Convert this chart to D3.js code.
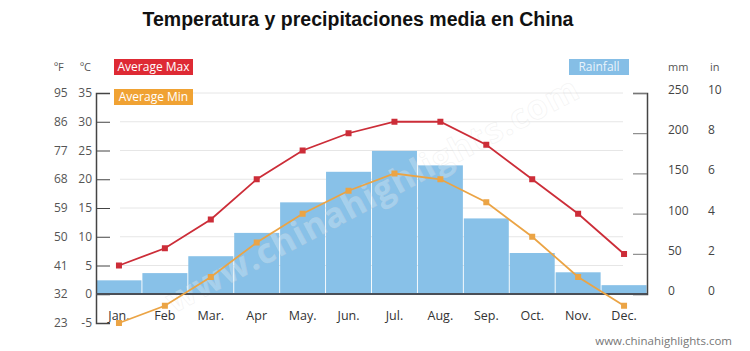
<!doctype html>
<html lang="es">

<head>
    <meta charset="utf-8">
    <title>Temperatura y precipitaciones media en China</title>
    <script src="https://cdn.jsdelivr.net/npm/d3@7"></script>
    <style>
        body {
            margin: 0;
            background: #fff;
        }

        svg {
            display: block;
            font-family: "Open Sans", sans-serif;
        }
    </style>
</head>

<body>
    <svg></svg>
    <script>
        var width = 750;
        var height = 351;

        // datos
        var months = ["Jan.", "Feb", "Mar.", "Apr", "May.", "Jun.", "Jul.", "Aug.", "Sep.", "Oct.", "Nov.", "Dec."];
        var maxTemp = [5, 8, 13, 20, 25, 28, 30, 30, 26, 20, 14, 7];
        var minTemp = [-5, -2, 3, 9, 14, 18, 21, 20, 16, 10, 3, -2];
        var rainfall = [17, 26, 47, 76, 114, 152, 178, 160, 94, 51, 27, 11];
        var tempTicks = [-5, 0, 5, 10, 15, 20, 25, 30, 35];
        var rainTicks = [0, 50, 100, 150, 200, 250];

        var plotLeft = 96, plotRight = 647, plotTop = 93, zeroY = 294, plotBottom = 323;

        var svg = d3.select('svg').attr('width', width).attr('height', height);

        var x = d3.scaleBand().domain(months).range([plotLeft, plotRight]).paddingInner(0.02).paddingOuter(0.01);
        var yT = d3.scaleLinear().domain([-5, 35]).range([plotBottom, plotTop]);
        var yR = d3.scaleLinear().domain([0, 250]).range([zeroY, plotTop]);

        // title
        svg.append("text")
            .attr("x", 358).attr("y", 26)
            .attr("text-anchor", "middle")
            .attr("font-family", "Liberation Sans, Arial, sans-serif")
            .attr("font-weight", "bold")
            .attr("font-size", "19.5px")
            .attr("fill", "#111")
            .text("Temperatura y precipitaciones media en China");

        // gridlines
        svg.append("g").selectAll("line")
            .data(tempTicks.filter(function (d) { return d > 0; }))
            .enter().append("line")
            .attr("x1", 120).attr("x2", 623)
            .attr("y1", function (d) { return yT(d); })
            .attr("y2", function (d) { return yT(d); })
            .attr("stroke", "#e6e6e6").attr("stroke-width", 1);

        // bars
        svg.append("g").selectAll("rect")
            .data(rainfall)
            .enter().append("rect")
            .attr("x", function (d, i) { return x(months[i]); })
            .attr("width", x.bandwidth())
            .attr("y", function (d) { return yR(d); })
            .attr("height", function (d) { return zeroY - yR(d); })
            .attr("fill", "#88c1e8");

        // watermark
        svg.append("text")
            .attr("transform", "translate(378,205) rotate(-28)")
            .attr("text-anchor", "middle")
            .attr("font-size", "34px")
            .attr("font-weight", "bold")
            .attr("fill", "#fff").attr("fill-opacity", 0.25)
            .attr("stroke", "#d0d0d0").attr("stroke-opacity", 0.25).attr("stroke-width", 0.8)
            .attr("letter-spacing", "1px")
            .text("www.chinahighlights.com");

        // axes
        var leftAxis = d3.axisRight(yT).tickValues(tempTicks).tickSize(14).tickFormat("");
        svg.append("g").attr("transform", "translate(" + plotLeft + ",0)").call(leftAxis)
            .call(function (g) {
                g.select(".domain").attr("stroke", "#444").attr("stroke-width", 1.5);
                g.selectAll(".tick line").attr("stroke", "#444");
            });

        var rightAxis = d3.axisLeft(yR).tickValues(rainTicks).tickSize(14).tickFormat("");
        svg.append("g").attr("transform", "translate(" + plotRight + ",0)").call(rightAxis)
            .call(function (g) {
                g.select(".domain").attr("stroke", "#444").attr("stroke-width", 1.5);
                g.selectAll(".tick line").attr("stroke", "#777");
            });

        svg.append("line")
            .attr("x1", plotLeft).attr("x2", plotRight)
            .attr("y1", zeroY).attr("y2", zeroY)
            .attr("stroke", "#4a4f57").attr("stroke-width", 2);

        // left labels
        var lab = svg.append("g").attr("font-size", "12px").attr("fill", "#555");
        lab.selectAll(".f").data(tempTicks).enter().append("text")
            .attr("x", 54).attr("y", function (d) { return yT(d) + 4; })
            .text(function (d) { return Math.round(d * 9 / 5 + 32); });
        lab.selectAll(".c").data(tempTicks).enter().append("text")
            .attr("x", 92).attr("text-anchor", "end")
            .attr("y", function (d) { return yT(d) + 4; })
            .text(function (d) { return d; });
        lab.append("text").attr("x", 54).attr("y", 71).attr("font-size", "11px").text("ºF");
        lab.append("text").attr("x", 80).attr("y", 71).attr("font-size", "11px").text("ºC");

        // right labels
        var rlab = svg.append("g").attr("font-size", "12px").attr("fill", "#444");
        rlab.selectAll(".mm").data(rainTicks).enter().append("text")
            .attr("x", 668).attr("y", function (d) { return yR(d) + 1; })
            .text(function (d) { return d; });
        rlab.selectAll(".in").data(rainTicks).enter().append("text")
            .attr("x", 708).attr("y", function (d) { return yR(d) + 1; })
            .text(function (d) { return d / 25; });
        rlab.append("text").attr("x", 668).attr("y", 71).attr("font-size", "11px").attr("fill", "#555").text("mm");
        rlab.append("text").attr("x", 710).attr("y", 71).attr("font-size", "11px").attr("fill", "#555").text("in");

        // month labels
        svg.append("g").selectAll("text")
            .data(months).enter().append("text")
            .attr("x", function (d) { return x(d) + x.bandwidth() / 2; })
            .attr("y", 320)
            .attr("text-anchor", "middle")
            .attr("font-size", "12.5px")
            .attr("fill", "#333")
            .text(function (d) { return d; });

        // lines
        var line = d3.line()
            .x(function (d, i) { return x(months[i]) + x.bandwidth() / 2; })
            .y(function (d) { return yT(d); });

        function drawSeries(data, color) {
            svg.append("path").datum(data)
                .attr("d", line)
                .attr("fill", "none")
                .attr("stroke", color)
                .attr("stroke-width", 1.8);
            svg.append("g").selectAll("rect")
                .data(data).enter().append("rect")
                .attr("x", function (d, i) { return x(months[i]) + x.bandwidth() / 2 - 3; })
                .attr("y", function (d) { return yT(d) - 3; })
                .attr("width", 6).attr("height", 6)
                .attr("fill", color);
        }
        drawSeries(maxTemp, "#cc2d38");
        drawSeries(minTemp, "#eba445");

        // legends
        function legend(x0, y0, w, color, label, textColor) {
            svg.append("rect").attr("x", x0).attr("y", y0).attr("width", w).attr("height", 16).attr("fill", color);
            svg.append("text").attr("x", x0 + w / 2).attr("y", y0 + 12)
                .attr("text-anchor", "middle").attr("font-size", "12px")
                .attr("fill", textColor).text(label);
        }
        legend(114, 59, 79, "#de2a34", "Average Max", "#fff");
        legend(114, 89, 79, "#f0a233", "Average Min", "#fff");
        legend(569, 59, 60, "#85bee6", "Rainfall", "#e8f3fb");

        // source
        svg.append("text")
            .attr("x", 732).attr("y", 345)
            .attr("text-anchor", "end")
            .attr("font-size", "11.5px")
            .attr("fill", "#777")
            .text("www.chinahighlights.com");
    </script>

</body>

</html>
